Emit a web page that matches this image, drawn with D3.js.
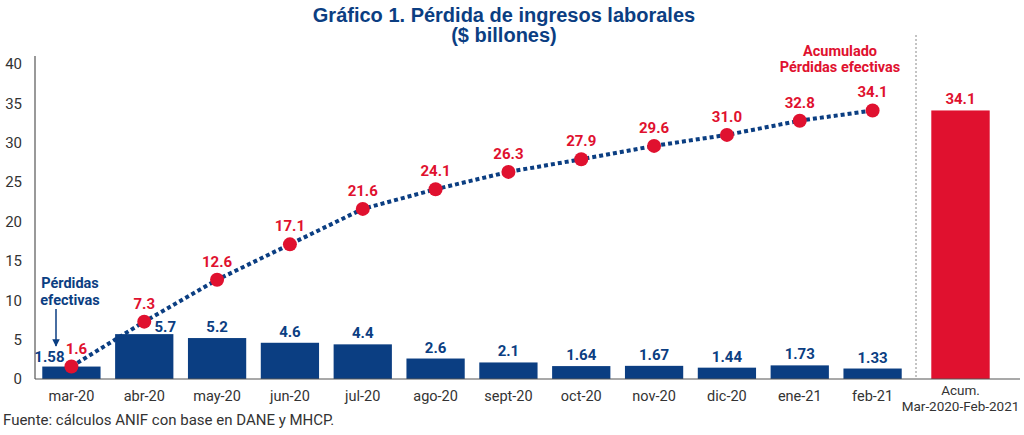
<!DOCTYPE html>
<html><head><meta charset="utf-8">
<script src="https://cdn.jsdelivr.net/npm/d3@7/dist/d3.min.js"></script>
<style>
body{margin:0;background:#fff;}
svg{display:block;font-family:Roboto,"Liberation Sans",Arial,sans-serif;}
</style></head>
<body>
<svg id="chart" width="1024" height="435"></svg>
<script>
const months = ["mar-20","abr-20","may-20","jun-20","jul-20","ago-20","sept-20","oct-20","nov-20","dic-20","ene-21","feb-21"];
const monthlyLoss = [1.58,5.7,5.2,4.6,4.4,2.6,2.1,1.64,1.67,1.44,1.73,1.33];
const monthlyLabels = ["1.58","5.7","5.2","4.6","4.4","2.6","2.1","1.64","1.67","1.44","1.73","1.33"];
const cumulativeLabels = ["1.6","7.3","12.6","17.1","21.6","24.1","26.3","27.9","29.6","31.0","32.8","34.1"];
const cumDots = [1.58,7.28,12.6,17.1,21.6,24.1,26.3,27.9,29.6,31.0,32.8,34.1];
const totalCategory = ["Acum."];
const totalValue = [34.1];
const yTicks = [0,5,10,15,20,25,30,35,40];

const BLUE = "#0b3e82", RED = "#e0112f", TXT = "#333";
const FONT = "Roboto, Liberation Sans, Arial, sans-serif";
const svg = d3.select("#chart");

const y = d3.scaleLinear().domain([0,40]).range([379,64]);
const x = d3.scaleBand().domain(months).range([35,909]).paddingInner(0.2).paddingOuter(0.1);
const xT = d3.scaleBand().domain(totalCategory).range([924,997]).paddingInner(0.2).paddingOuter(0.1);

// Title
svg.append("text").attr("x",504).attr("y",22).attr("text-anchor","middle")
  .attr("fill",BLUE).attr("font-weight","bold").attr("font-size",20)
  .attr("font-family","Liberation Sans, Arial, sans-serif")
  .text("Gráfico 1. Pérdida de ingresos laborales");
svg.append("text").attr("x",504).attr("y",42).attr("text-anchor","middle")
  .attr("fill",BLUE).attr("font-weight","bold").attr("font-size",20)
  .attr("font-family","Liberation Sans, Arial, sans-serif")
  .text("($ billones)");

// Y axis
const yAx = svg.append("g").attr("transform","translate(35,0)")
  .call(d3.axisLeft(y).tickValues(yTicks).tickSize(0).tickPadding(13));
yAx.select(".domain").attr("stroke","#555").attr("stroke-width",1.2).attr("d","M0,56V379");
yAx.selectAll("text").attr("font-size",15).attr("fill",TXT).attr("font-family",FONT);

// separator
svg.append("line").attr("x1",916).attr("x2",916).attr("y1",35).attr("y2",379)
  .attr("stroke","#888").attr("stroke-dasharray","2,2").attr("stroke-width",1);

// bars
svg.append("g").selectAll("rect").data(months).join("rect")
  .attr("x",d=>x(d)).attr("width",x.bandwidth())
  .attr("y",(d,i)=>y(monthlyLoss[i])).attr("height",(d,i)=>y(0)-y(monthlyLoss[i]))
  .attr("fill",BLUE);
svg.append("g").selectAll("rect").data(totalCategory).join("rect")
  .attr("x",d=>xT(d)).attr("width",xT.bandwidth())
  .attr("y",(d,i)=>y(totalValue[i])).attr("height",(d,i)=>y(0)-y(totalValue[i]))
  .attr("fill",RED);

// x axis
const xAx = svg.append("g").attr("transform","translate(0,379)")
  .call(d3.axisBottom(x).tickSize(0).tickPadding(12));
xAx.select(".domain").attr("stroke","#555").attr("stroke-width",1.2).attr("d","M35,0H1020");
xAx.selectAll("text").attr("font-size",14.5).attr("fill",TXT).attr("font-family",FONT);
const xAx2 = svg.append("g").attr("transform","translate(0,379)")
  .call(d3.axisBottom(xT).tickSize(0).tickPadding(12).tickFormat(()=>""));
xAx2.select(".domain").remove();
const tl = xAx2.select(".tick text").attr("font-size",13.5).attr("fill",TXT).attr("font-family",FONT);
tl.append("tspan").attr("x",0).attr("dy","0.3em").text("Acum.");
tl.append("tspan").attr("x",0).attr("dy","1.2em").text("Mar-2020-Feb-2021");

// line
const cx = d=>x(d)+x.bandwidth()/2;
const line = d3.line().x((d,i)=>cx(months[i])).y(d=>y(d));
svg.append("path").datum(cumDots).attr("d",line).attr("fill","none")
  .attr("stroke",BLUE).attr("stroke-width",4).attr("stroke-dasharray","4,3");
svg.append("g").selectAll("circle").data(cumDots).join("circle")
  .attr("cx",(d,i)=>cx(months[i])).attr("cy",d=>y(d)).attr("r",7).attr("fill",RED);

// bar labels
const barDx = [-22,21,0,0,0,0,0,0,0,0,0,0];
const barDy = [-5,-2,-6,-6,-6,-6,-6,-6,-6,-6,-6,-6];
svg.append("g").selectAll("text").data(monthlyLabels).join("text")
  .attr("x",(d,i)=>cx(months[i])+barDx[i])
  .attr("y",(d,i)=>y(monthlyLoss[i])+barDy[i])
  .attr("text-anchor","middle").attr("fill",BLUE).attr("font-weight","bold").attr("font-size",15)
  .attr("font-family",FONT).text(d=>d);
// cumulative labels
const cumDx = [5,0,0,0,0,0,0,0,0,0,0,0];
svg.append("g").selectAll("text").data(cumulativeLabels).join("text")
  .attr("x",(d,i)=>cx(months[i])+cumDx[i])
  .attr("y",(d,i)=>y(cumDots[i])-13)
  .attr("text-anchor","middle").attr("fill",RED).attr("font-weight","bold").attr("font-size",15)
  .attr("font-family",FONT).text(d=>d);
// total label
svg.append("text").attr("x",xT("Acum.")+xT.bandwidth()/2).attr("y",y(totalValue[0])-6)
  .attr("text-anchor","middle").attr("fill",RED).attr("font-weight","bold").attr("font-size",15)
  .attr("font-family",FONT).text(totalValue[0].toFixed(1));

// annotations
const ann = svg.append("text").attr("text-anchor","middle").attr("fill",BLUE)
  .attr("font-weight","bold").attr("font-size",14.5).attr("font-family",FONT);
ann.append("tspan").attr("x",70).attr("y",288).text("Pérdidas");
ann.append("tspan").attr("x",70).attr("y",305).text("efectivas");
svg.append("defs").append("marker").attr("id","arr").attr("viewBox","0 0 10 10")
  .attr("refX",9).attr("refY",5).attr("markerWidth",5).attr("markerHeight",5).attr("orient","auto")
  .append("path").attr("d","M0,0L10,5L0,10z").attr("fill",BLUE);
svg.append("line").attr("x1",56).attr("x2",56).attr("y1",309).attr("y2",346)
  .attr("stroke",BLUE).attr("stroke-width",1.5).attr("marker-end","url(#arr)");

const ann2 = svg.append("text").attr("text-anchor","middle").attr("fill",RED)
  .attr("font-weight","bold").attr("font-size",14.5).attr("font-family",FONT);
ann2.append("tspan").attr("x",840).attr("y",56).text("Acumulado");
ann2.append("tspan").attr("x",840).attr("y",72).text("Pérdidas efectivas");

// source
svg.append("text").attr("x",3).attr("y",425).attr("fill",TXT).attr("font-size",15)
  .attr("font-family",FONT)
  .text("Fuente: cálculos ANIF con base en DANE y MHCP.");
</script>
</body></html>
